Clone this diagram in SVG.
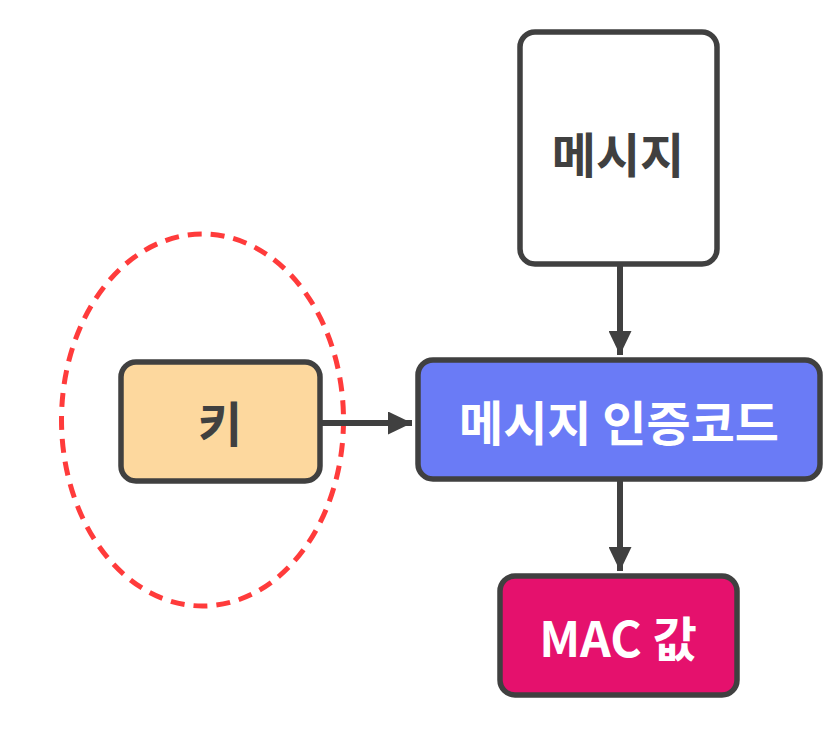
<svg xmlns="http://www.w3.org/2000/svg" width="840" height="744" viewBox="0 0 840 744">
<defs>
<style>
.box{stroke:#404040;stroke-width:5.5}
.lbl{font-family:"Noto Sans CJK KR","Noto Sans",sans-serif;font-weight:700;font-size:48px;text-anchor:middle;dominant-baseline:central}
.dark{fill:#404040}
.light{fill:#ffffff}
.conn{stroke:#404040;stroke-width:6;fill:none}
</style>
<marker id="ah" markerUnits="userSpaceOnUse" markerWidth="24" markerHeight="23" viewBox="0 0 24 23" refX="24" refY="11.5" orient="auto">
<path d="M0,0 L24,11.5 L0,23 Z" fill="#404040"/>
</marker>
</defs>
<rect width="840" height="744" fill="#ffffff"/>
<ellipse cx="202.5" cy="420" rx="141" ry="186" fill="none" stroke="#FF3B3B" stroke-width="5" stroke-dasharray="14 9"/>
<g id="connectors">
<line class="conn" x1="620" y1="265" x2="620" y2="355" marker-end="url(#ah)"/>
<line class="conn" x1="320" y1="423" x2="412" y2="423" marker-end="url(#ah)"/>
<line class="conn" x1="620" y1="480" x2="620" y2="571" marker-end="url(#ah)"/>
</g>
<g id="node-message">
<rect class="box" x="520" y="32" width="197" height="232" rx="15" fill="#ffffff"/>
<text class="lbl dark" x="618" y="152">메시지</text>
</g>
<g id="node-mac-algo">
<rect class="box" x="418" y="360" width="402" height="119" rx="15" fill="#6A7BF6"/>
<text class="lbl light" x="619" y="420">메시지 인증코드</text>
</g>
<g id="node-key">
<rect class="box" x="121" y="362" width="199" height="119" rx="15" fill="#FDD89E"/>
<text class="lbl dark" x="220" y="421">키</text>
</g>
<g id="node-mac-value">
<rect class="box" x="500" y="576" width="237" height="119" rx="15" fill="#E5116D"/>
<text class="lbl light" x="618" y="636">MAC 값</text>
</g>
</svg>
